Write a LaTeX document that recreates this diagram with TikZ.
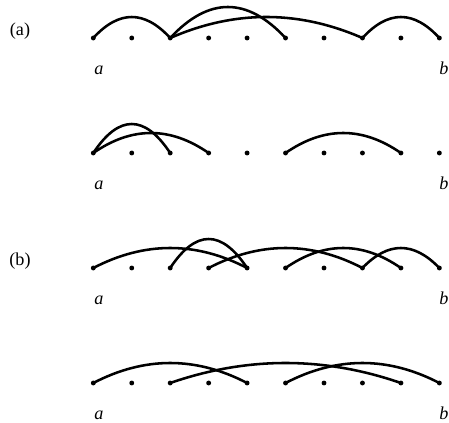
\documentclass[tikz,border=0pt]{standalone}
\usepackage{fontspec}
\setmainfont{Liberation Serif}
\usetikzlibrary{calc}

% one arc from #1 to #2, #3 = gap in dots, #4 = height (px)
\newcommand\linkarc[4]{%
  \draw[lnk] (#1.center) .. controls +({38.45*#3/3},{-4*#4/3})
    and +({-38.45*#3/3},{-4*#4/3}) .. (#2.center);}

\begin{document}
\begin{tikzpicture}[x=0.55pt, y=-0.55pt,
  pt/.style={circle, fill=black, inner sep=0pt, minimum size=2.7pt},
  lnk/.style={line width=1.4pt},
  lab/.style={font=\itshape, anchor=base, inner sep=0pt},
  tag/.style={anchor=base, inner sep=0pt}]

\useasboundingbox (0,0) rectangle (449,423);

% dots, rows 1-4
\foreach \r/\y in {1/38, 2/153, 3/268, 4/383} {
  \foreach \i in {0,...,9}
    \node[pt] (p\r\i) at ({93.3+38.45*\i},\y) {};
  \node[lab] (a\r) at (99,\y+37) {a};
  \node[lab] (b\r) at (444,\y+37) {b};
}

% case labels
\node[tag] (ca) at (20,36) {(a)};
\node[tag] (cb) at (20,266) {(b)};

% Row 1
\linkarc{p10}{p12}{2}{21}
\linkarc{p12}{p15}{3}{31}
\linkarc{p12}{p17}{5}{21}
\linkarc{p17}{p19}{2}{21}

% Row 2
\linkarc{p20}{p22}{2}{29}
\linkarc{p20}{p23}{3}{20}
\linkarc{p25}{p28}{3}{20}

% Row 3
\linkarc{p30}{p34}{4}{20}
\linkarc{p32}{p34}{2}{29}
\linkarc{p33}{p37}{4}{20}
\linkarc{p35}{p38}{3}{20}
\linkarc{p37}{p39}{2}{20}

% Row 4
\linkarc{p40}{p44}{4}{20}
\linkarc{p42}{p48}{6}{20}
\linkarc{p45}{p49}{4}{20}

\end{tikzpicture}
\end{document}
